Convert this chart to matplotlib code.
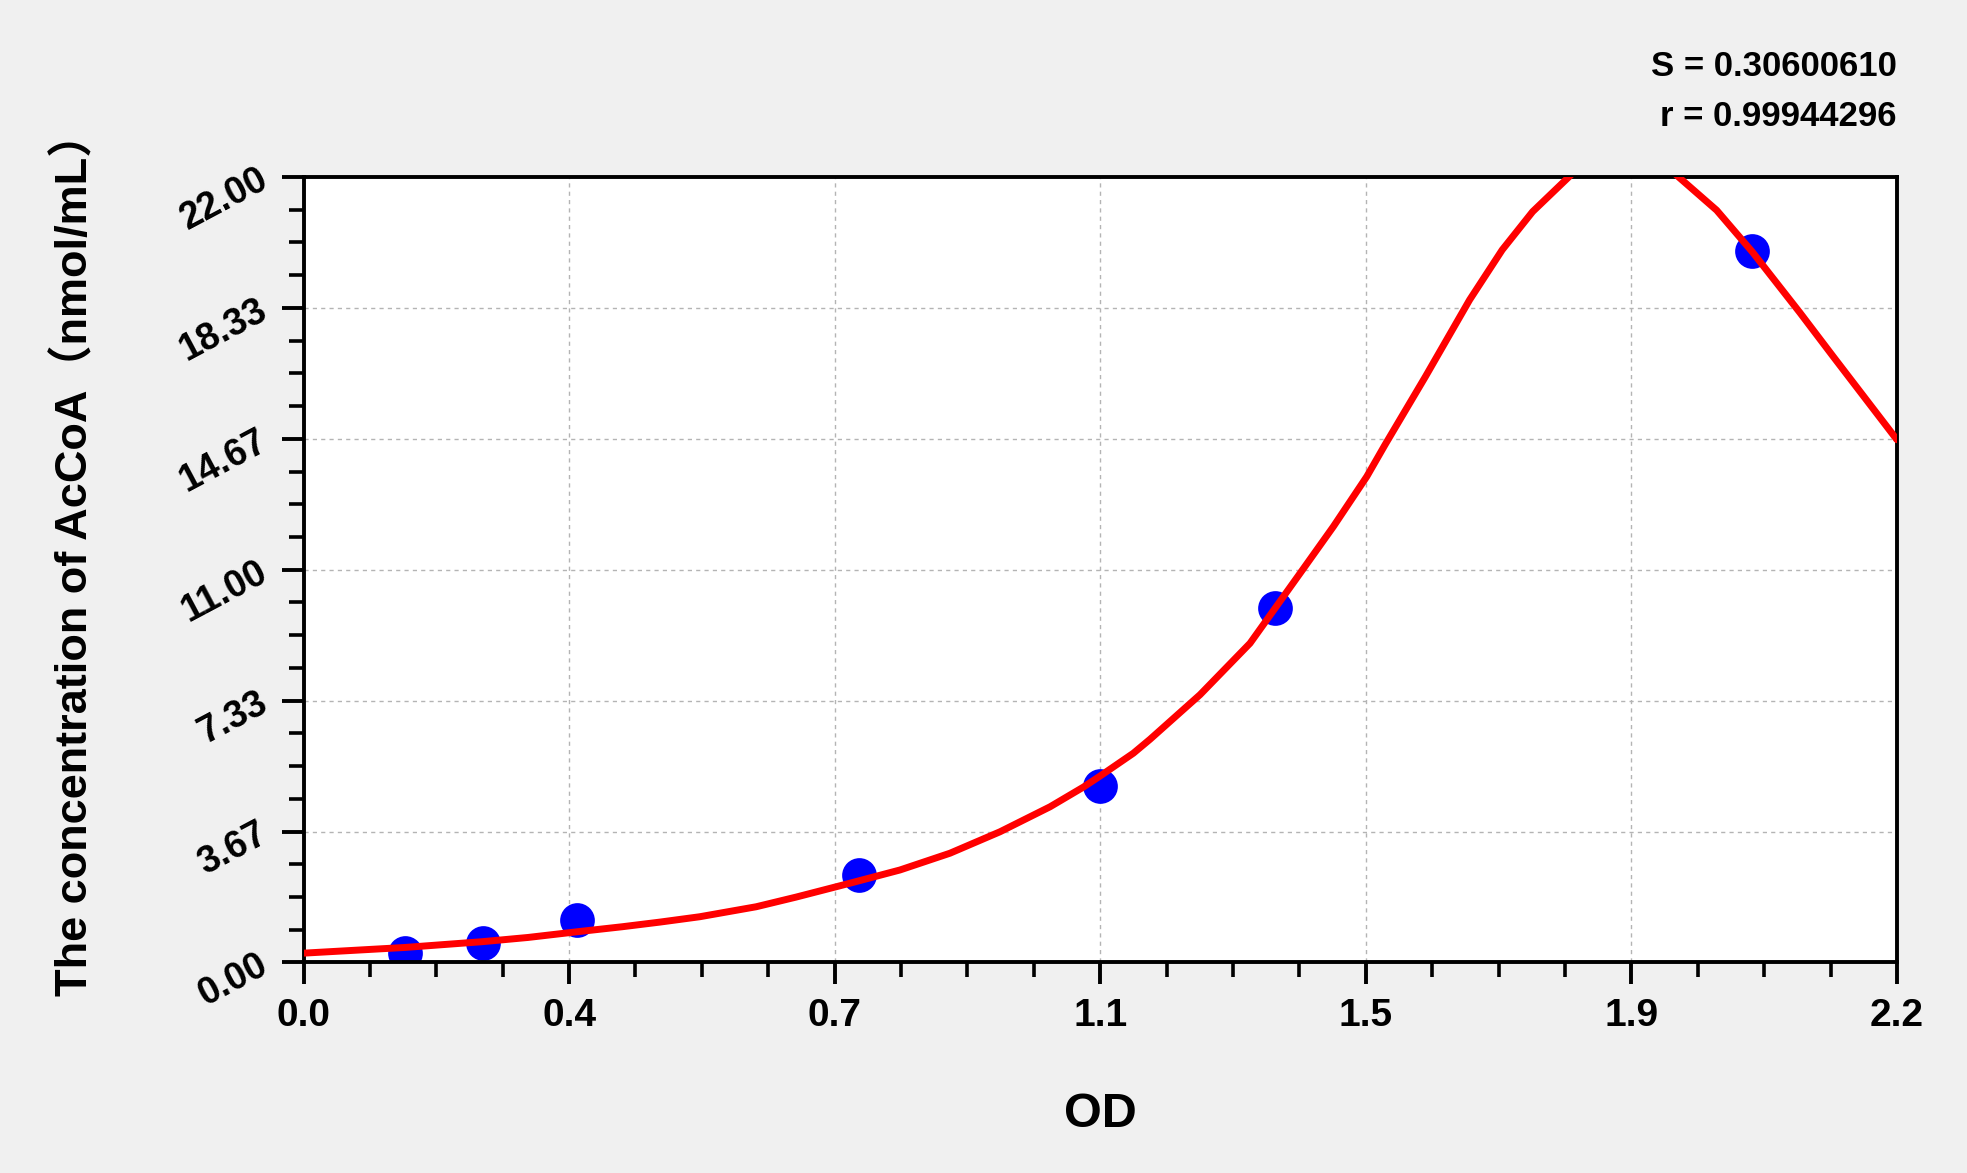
import matplotlib
matplotlib.use("Agg")
import matplotlib.pyplot as plt
from matplotlib.ticker import FixedLocator, MultipleLocator

# standard points (OD, concentration)
od = [0.14, 0.248, 0.377, 0.767, 1.099, 1.341, 2.0]
conc = [0.27, 0.55, 1.2, 2.44, 4.95, 9.93, 19.93]

# fitted curve
fit_x = [0.0, 0.07, 0.14, 0.246, 0.31, 0.378, 0.44, 0.492, 0.547, 0.625,
         0.68, 0.7545, 0.8235, 0.8926, 0.9616, 1.0307, 1.0766, 1.0997, 1.1457, 1.1687,
         1.2378, 1.3068, 1.3759, 1.4219, 1.468, 1.4932, 1.549, 1.61, 1.655, 1.697,
         1.752, 1.82, 1.894, 1.951, 2.0, 2.066, 2.112, 2.2]
fit_y = [0.26, 0.34, 0.42, 0.58, 0.7, 0.86, 1.0, 1.13, 1.28, 1.56,
         1.83, 2.22, 2.59, 3.06, 3.66, 4.36, 4.91, 5.22, 5.86, 6.25,
         7.5, 8.94, 10.9, 12.21, 13.61, 14.5, 16.41, 18.56, 19.96, 21.03,
         22.1, 23.3, 22.08, 21.07, 19.91, 18.2, 16.97, 14.64]

x_tick_labels = ["0.0", "0.4", "0.7", "1.1", "1.5", "1.9", "2.2"]
y_tick_labels = ["0.00", "3.67", "7.33", "11.00", "14.67", "18.33", "22.00"]
x_max = 2.2
y_max = 22.0

stat_s = "S = 0.30600610"
stat_r = "r = 0.99944296"

FONT = "Liberation Sans"

fig = plt.figure(figsize=(19.67, 11.73), dpi=100, facecolor="#f0f0f0")
ax = fig.add_axes([0.1543, 0.1795, 0.8101, 0.6696])
ax.set_facecolor("white")

ax.scatter(od, conc, s=25 ** 2, color="#0000ff", zorder=2, linewidths=0)
ax.plot(fit_x, fit_y, color="#ff0000", lw=5, zorder=3, solid_capstyle="round")

ax.set_xlim(0, x_max)
ax.set_ylim(0, y_max)

x_pos = [i * x_max / (len(x_tick_labels) - 1) for i in range(len(x_tick_labels))]
y_pos = [i * y_max / (len(y_tick_labels) - 1) for i in range(len(y_tick_labels))]
ax.xaxis.set_major_locator(FixedLocator(x_pos))
ax.yaxis.set_major_locator(FixedLocator(y_pos))
ax.xaxis.set_minor_locator(MultipleLocator(x_max / 24))
ax.yaxis.set_minor_locator(MultipleLocator(y_max / 24))
ax.set_xticklabels(x_tick_labels, fontsize=28, fontweight="bold", family=FONT)
ax.set_yticklabels(y_tick_labels, fontsize=27, fontweight="bold", family=FONT,
                   rotation=28, rotation_mode="anchor", ha="right", va="center")

ax.tick_params(axis="both", which="major", direction="out", length=15.5, width=2.8,
               color="black")
ax.tick_params(axis="both", which="minor", direction="out", length=10.5, width=2.6,
               color="black")
ax.tick_params(axis="x", which="major", pad=10)
ax.tick_params(axis="y", which="major", pad=12)
ax.tick_params(top=False, right=False, which="both")

for sp in ax.spines.values():
    sp.set_linewidth(2.8)
    sp.set_color("black")

ax.grid(True, which="major", color="#b4b4b4", linestyle=(0, (3, 3)), linewidth=1.0)
ax.set_axisbelow(True)

ax.set_xlabel("OD", fontsize=35, fontweight="bold", family=FONT, labelpad=42)
ax.set_ylabel("The concentration of AcCoA（nmol/mL）", fontsize=32.5,
              fontweight="bold", family=[FONT, "Noto Sans CJK SC"], labelpad=56)
ax.yaxis.label.set_y(0.52)

fig.text(0.9644, 0.943, stat_s, ha="right", va="center", fontsize=25,
         fontweight="bold", family=FONT)
fig.text(0.9644, 0.901, stat_r, ha="right", va="center", fontsize=25,
         fontweight="bold", family=FONT)

fig.savefig("out.png", dpi=100, facecolor=fig.get_facecolor())
